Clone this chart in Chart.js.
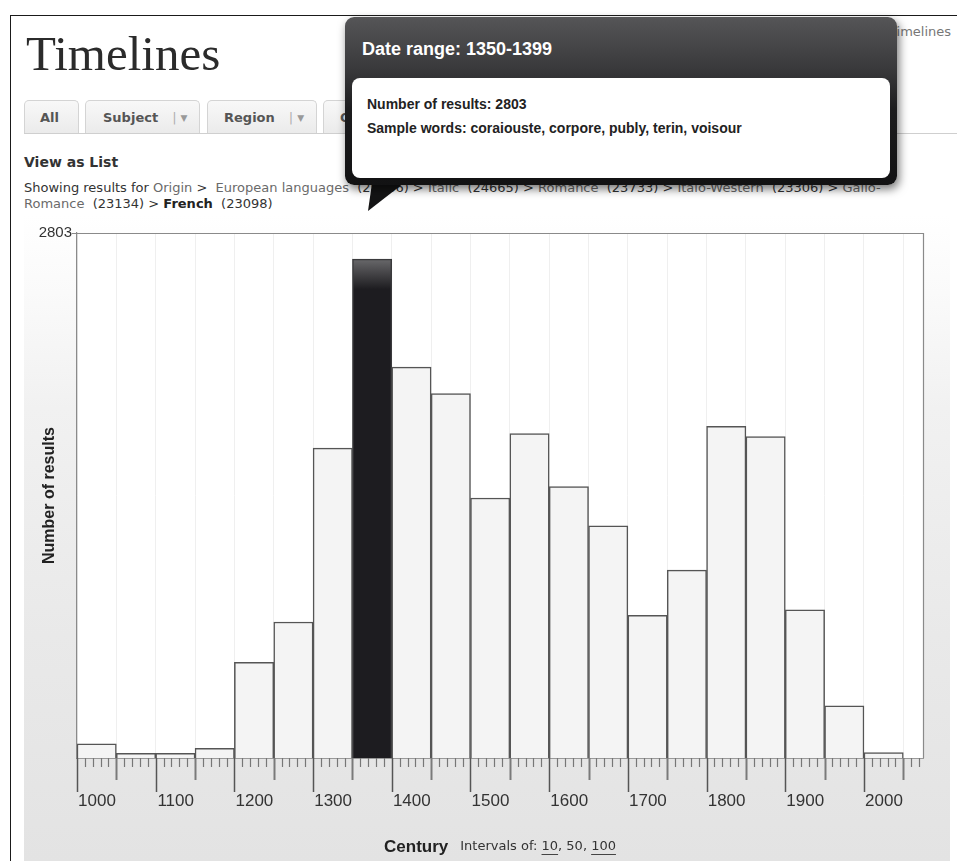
<!DOCTYPE html>
<html>
<head>
<meta charset="utf-8">
<title>Timelines</title>
<script src="https://cdn.jsdelivr.net/npm/chart.js@4.4.1/dist/chart.umd.min.js"></script>
<style>
  html, body { margin:0; padding:0; }
  body { width:957px; height:861px; overflow:hidden; position:relative; background:#fff; font-family:"DejaVu Sans", sans-serif; color:#333; }
  .abs { position:absolute; }
  #frame { left:10px; top:15px; width:1000px; height:900px; border-left:1px solid #1a1a1a; border-top:1px solid #1a1a1a; }
  #pageTitle { left:26px; top:30px; font-family:"Liberation Serif", serif; font-size:49px; line-height:48px; color:#2b2b2b; white-space:nowrap; }
  #crumbTop { left:889px; top:24px; font-size:13px; color:#777; white-space:nowrap; }
  .tab { top:100px; height:33px; line-height:33px; box-sizing:border-box; border:1px solid #d4d4d4; border-bottom:none; border-radius:5px 5px 0 0; background:linear-gradient(#f8f8f8,#ebebeb); font-weight:bold; font-size:13px; color:#555; white-space:nowrap; }
  .sep { color:#b0b0b0; font-weight:normal; margin-left:14px; }
  .arr { color:#999; font-size:9px; margin-left:4px; vertical-align:1px; }
  #tabline { left:24px; top:133px; width:940px; height:0; border-top:1px solid #cfcfcf; }
  #viewList { left:24px; top:153px; font-weight:bold; font-size:14px; line-height:18px; color:#333; white-space:nowrap; }
  #crumbs { left:24px; top:180px; font-size:13px; line-height:16px; color:#333; white-space:nowrap; }
  #crumbs .lk { color:#6a6a6a; }
  #crumbs b { color:#222; }
  #box { left:24px; top:215px; width:926px; height:646px; background:linear-gradient(to bottom,#ffffff 0%,#fafafa 12%,#f1f1f1 30%,#e9e9e9 65%,#e3e3e3 100%); }
  #tip { left:345px; top:17px; width:552px; height:168px; border-radius:9px; background:linear-gradient(to bottom,#555557 0%,#3a3a3c 30%,#1c1c1e 55%,#121213 100%); box-shadow:2px 4px 10px rgba(0,0,0,0.55); font-family:"Liberation Sans", Arial, sans-serif; }
  #tipTitle { position:absolute; left:17px; top:21px; font-size:18px; line-height:22px; font-weight:bold; color:#fff; white-space:nowrap; }
  #tipBody { position:absolute; left:7px; top:61px; width:538px; height:100px; background:#fff; border-radius:8px; }
  #tipN, #tipW { position:absolute; left:15px; font-size:14px; line-height:18px; font-weight:bold; color:#222; white-space:nowrap; }
  #tipN { top:17px; }
  #tipW { top:41px; }
  #tipArrow { left:360px; top:180px; width:46px; height:32px; background:#141415; clip-path:polygon(12px 3px, 44px 3px, 8px 31px); }
</style>
</head>
<body>
<div id="frame" class="abs"></div>
<div id="pageTitle" class="abs">Timelines</div>
<div id="crumbTop" class="abs">Timelines</div>
<div class="abs tab" style="left:24px;width:55px;padding-left:15px;">All</div>
<div class="abs tab" style="left:85px;width:115px;padding-left:17px;">Subject<span class="sep">|</span><span class="arr">&#9660;</span></div>
<div class="abs tab" style="left:207px;width:110px;padding-left:16px;">Region<span class="sep">|</span><span class="arr">&#9660;</span></div>
<div class="abs tab" style="left:323px;width:110px;padding-left:16px;">Origin<span class="sep">|</span><span class="arr">&#9660;</span></div>
<div id="tabline" class="abs"></div>
<div id="viewList" class="abs">View as List</div>
<div id="crumbs" class="abs">Showing results for <span class="lk">Origin</span> &gt;&nbsp; <span class="lk">European languages</span>&nbsp; (25466) &gt; <span class="lk">Italic</span>&nbsp; (24665) &gt; <span class="lk">Romance</span>&nbsp; (23733) &gt; <span class="lk">Italo-Western</span>&nbsp; (23306) &gt; <span class="lk">Gallo-</span><br><span class="lk">Romance</span>&nbsp; (23134) &gt; <b>French</b>&nbsp; (23098)</div>
<div id="box" class="abs"><canvas id="c" width="926" height="646"></canvas></div>
<div id="tipArrow" class="abs"></div>
<div id="tip" class="abs">
  <div id="tipTitle"></div>
  <div id="tipBody"><div id="tipN"></div><div id="tipW"></div></div>
</div>
<script>
// ---- data ----
const binStarts = [1000,1050,1100,1150,1200,1250,1300,1350,1400,1450,1500,1550,1600,1650,1700,1750,1800,1850,1900,1950,2000];
const resultCounts = [79,26,26,55,538,764,1741,2803,2196,2047,1461,1823,1525,1304,801,1056,1864,1806,833,293,30];
const centuryLabels = ['1000','1100','1200','1300','1400','1500','1600','1700','1800','1900','2000'];
const binYears = 50;
const highlightIndex = 7;
const sampleWords = ['coraiouste','corpore','publy','terin','voisour'];
const intervalChoices = ['10','50','100'];
const activeInterval = '50';

// ---- tooltip text ----
document.getElementById('tipTitle').textContent = 'Date range: ' + binStarts[highlightIndex] + '-' + (binStarts[highlightIndex] + binYears - 1);
document.getElementById('tipN').textContent = 'Number of results: ' + resultCounts[highlightIndex];
document.getElementById('tipW').textContent = 'Sample words: ' + sampleWords.join(', ');

Chart.defaults.font.family = '"Liberation Sans", Arial, sans-serif';

function barFill(ctx) {
  if (ctx.dataIndex !== highlightIndex) return '#f4f4f4';
  const chart = ctx.chart, ys = chart.scales.y;
  if (!ys || !chart.chartArea) return '#1d1c20';
  const top = ys.getPixelForValue(resultCounts[highlightIndex]);
  const g = chart.ctx.createLinearGradient(0, top, 0, top + 30);
  g.addColorStop(0, '#68686a');
  g.addColorStop(1, '#1d1c20');
  return g;
}

const chartBg = {
  id: 'chartBg',
  beforeDraw(chart) {
    const { ctx, chartArea: a } = chart;
    ctx.save();
    ctx.fillStyle = '#ffffff';
    ctx.fillRect(a.left, a.top, a.right - a.left, a.bottom - a.top);
    ctx.restore();
  }
};
const frame = {
  id: 'frame',
  afterDatasetsDraw(chart) {
    const { ctx, chartArea: a } = chart;
    ctx.save();
    ctx.strokeStyle = '#8a8a8a';
    ctx.lineWidth = 1.2;
    ctx.beginPath();
    ctx.moveTo(a.left, a.top + 0.5);
    ctx.lineTo(a.right + 0.5, a.top + 0.5);
    ctx.lineTo(a.right + 0.5, a.bottom);
    ctx.stroke();
    ctx.restore();
  }
};
const rulerTicks = {
  id: 'rulerTicks',
  afterDraw(chart) {
    const xs = chart.scales.x, { ctx, chartArea: a } = chart;
    ctx.save();
    for (let v = xs.min; v < xs.max; v += 10) {
      const px = Math.round(xs.getPixelForValue(v)) + 0.5;
      let len, col, w;
      if (v % 100 === 0) { len = 34; col = '#555'; w = 1.5; }
      else if (v % 50 === 0) { len = 22; col = '#7a7a7a'; w = 2; }
      else { len = 9; col = '#777'; w = 1.2; }
      ctx.strokeStyle = col; ctx.lineWidth = w;
      ctx.beginPath(); ctx.moveTo(px, a.bottom); ctx.lineTo(px, a.bottom + len); ctx.stroke();
    }
    ctx.restore();
  }
};
const xTitle = {
  id: 'xTitle',
  afterDraw(chart) {
    const { ctx, chartArea: a } = chart;
    const y = a.bottom + 89;
    const small = '13px "DejaVu Sans", sans-serif';
    const parts = [{ t: 'Century', f: 'bold 17px "Liberation Sans", Arial, sans-serif', c: '#222', gap: 12 },
                   { t: 'Intervals of: ', f: small, c: '#333' }];
    intervalChoices.forEach((iv, i) => {
      parts.push({ t: iv, f: small, c: '#333', u: iv !== activeInterval });
      if (i < intervalChoices.length - 1) parts.push({ t: ', ', f: small, c: '#333' });
    });
    ctx.save();
    ctx.textBaseline = 'middle';
    let total = 0;
    parts.forEach(p => { ctx.font = p.f; p.w = ctx.measureText(p.t).width; total += p.w + (p.gap || 0); });
    let x = (a.left + a.right) / 2 - total / 2;
    parts.forEach(p => {
      ctx.font = p.f; ctx.fillStyle = p.c; ctx.fillText(p.t, x, y);
      if (p.u) { ctx.strokeStyle = '#444'; ctx.lineWidth = 1; ctx.beginPath(); ctx.moveTo(x, y + 7.5); ctx.lineTo(x + p.w, y + 7.5); ctx.stroke(); }
      x += p.w + (p.gap || 0);
    });
    ctx.restore();
  }
};

new Chart(document.getElementById('c'), {
  type: 'bar',
  data: {
    datasets: [{
      data: binStarts.map((s, i) => ({ x: s + binYears / 2, y: resultCounts[i] })),
      backgroundColor: barFill,
      borderColor: ctx => ctx.dataIndex === highlightIndex ? '#3a3a3c' : '#555555',
      borderWidth: 1.5,
      barPercentage: 1,
      categoryPercentage: 1
    }]
  },
  options: {
    responsive: false,
    devicePixelRatio: 1,
    animation: false,
    events: [],
    layout: { padding: { top: 18, right: 27, left: 0, bottom: 0 } },
    plugins: { legend: { display: false }, tooltip: { enabled: false } },
    scales: {
      x: {
        type: 'linear', min: 1000, max: 2075, offset: false,
        ticks: {
          stepSize: 50, includeBounds: false, autoSkip: false, maxRotation: 0, minRotation: 0,
          labelOffset: 20, padding: 3, color: '#333', font: { size: 17 },
          callback: v => centuryLabels.includes(String(v)) ? String(v) : ''
        },
        grid: { offset: false, color: '#efefef', lineWidth: 1, drawTicks: true, tickLength: 30, tickColor: 'rgba(0,0,0,0)' },
        border: { color: '#999', width: 1 },
        afterFit: s => { s.height = 103; }
      },
      y: {
        min: 0, max: 2950,
        afterBuildTicks: s => { s.ticks = [{ value: s.max }]; },
        ticks: { callback: () => String(Math.max(...resultCounts)), color: '#333', font: { size: 15 }, padding: 0 },
        grid: { drawOnChartArea: false, tickLength: 5, tickColor: '#888', color: '#888' },
        border: { color: '#8a8a8a', width: 1.2 },
        title: { display: true, text: 'Number of results', color: '#222', font: { size: 16, weight: 'bold' }, padding: { top: 16, bottom: 0 } },
        afterFit: s => { s.width = 53; }
      }
    }
  },
  plugins: [chartBg, frame, rulerTicks, xTitle]
});
</script>
</body>
</html>
